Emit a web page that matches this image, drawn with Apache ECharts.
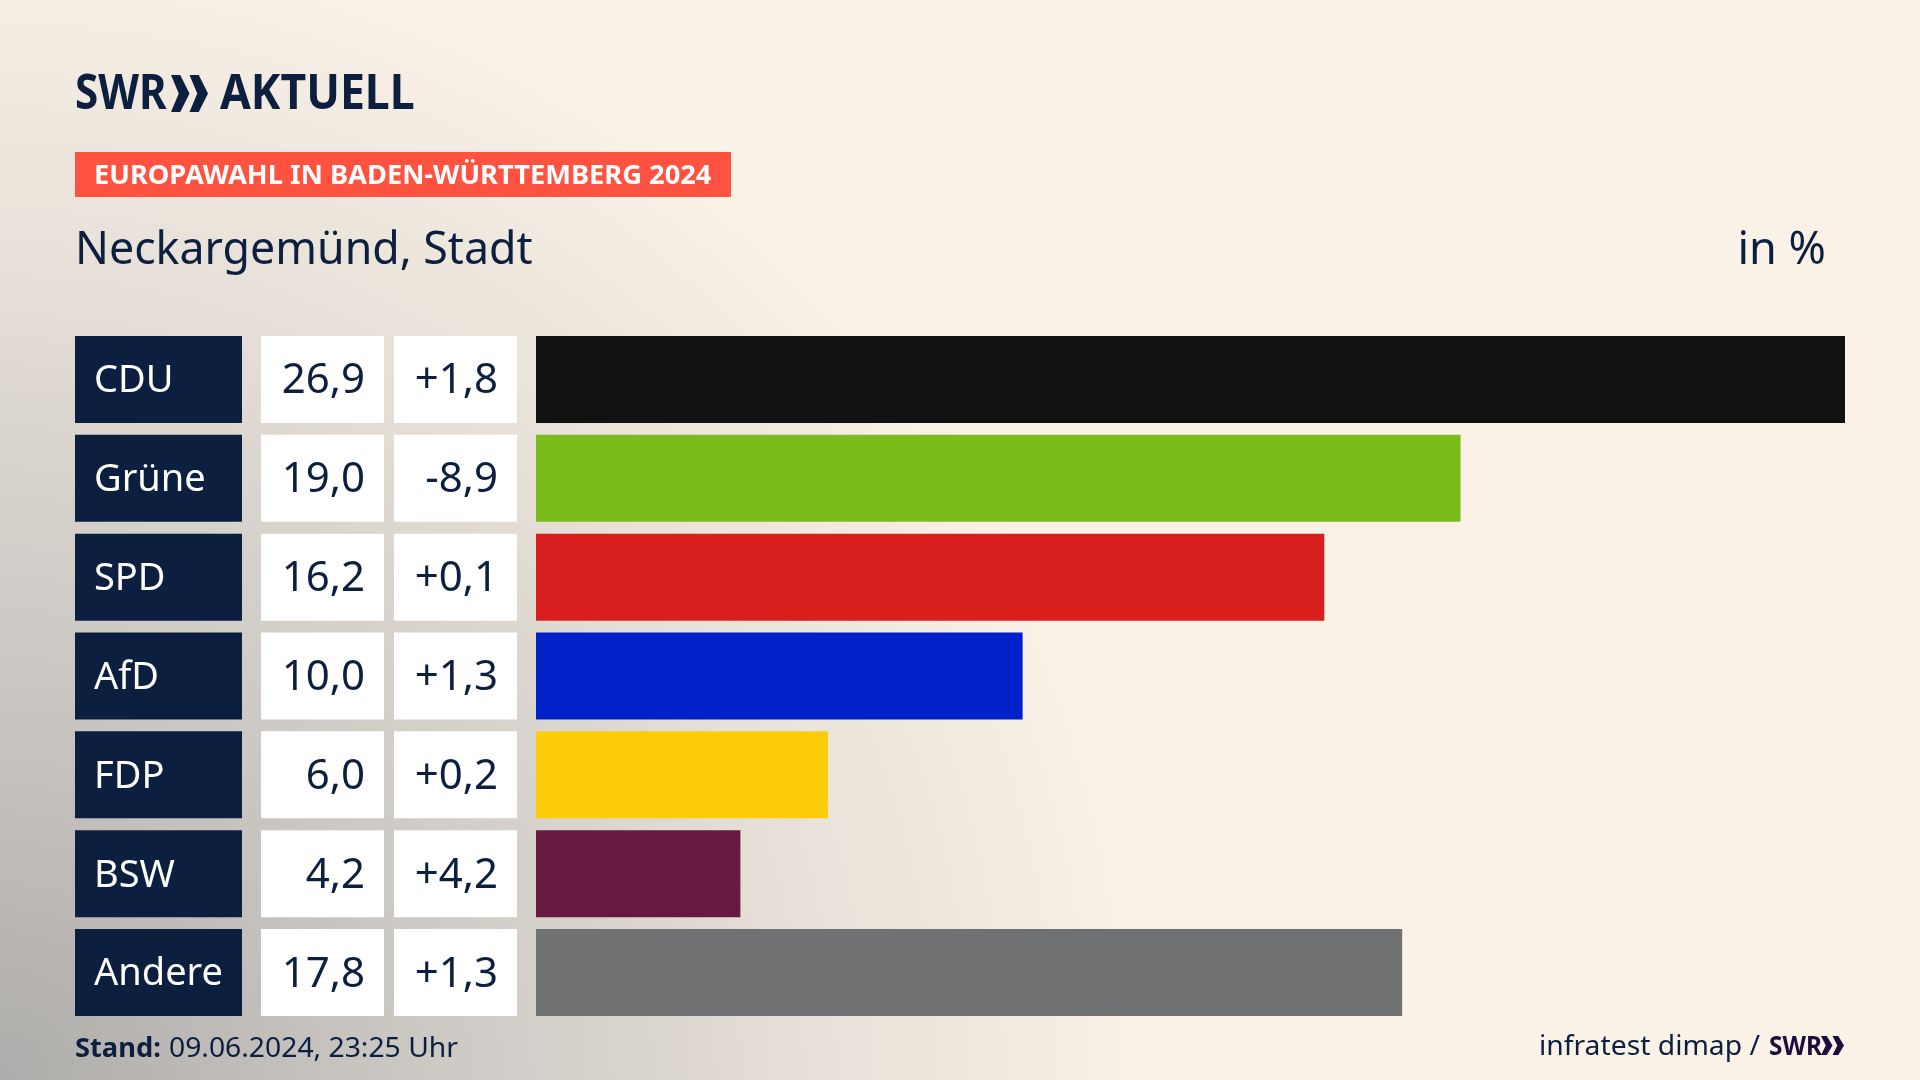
<!DOCTYPE html>
<html>
<head>
<meta charset="utf-8">
<title>Europawahl Neckargemünd</title>
<style>
	html, body { margin: 0; padding: 0; }
	#chart { width: 1920px; height: 1080px; }
</style>
<script src="https://cdn.jsdelivr.net/npm/echarts@6/dist/echarts.min.js"></script>
</head>
<body>
<div id="chart"></div>
<script>
var parties = ['CDU', 'Grüne', 'SPD', 'AfD', 'FDP', 'BSW', 'Andere'];
var shares = [26.9, 19.0, 16.2, 10.0, 6.0, 4.2, 17.8];
var changes = [1.8, -8.9, 0.1, 1.3, 0.2, 4.2, 1.3];
var partyColors = ['#121212', '#7abd1a', '#d81f1e', '#0020c8', '#ffcc0a', '#671a3f', '#707173'];

var navy = '#0c1f3f';
var font = '"Noto Sans", sans-serif';

// comma as decimal mark
function fmt(v) {
	return v.toFixed(1).replace('.', ',');
}

function fmtChange(v) {
	return (v > 0 ? '+' : '') + fmt(v);
}

// one column per grid: left and width in px, all rows share the same band
var columns = [
	{ left: 75, width: 167 },
	{ left: 261, width: 123 },
	{ left: 394, width: 123 },
	{ left: 536, width: 1309 }
];

var grids = [], xAxes = [], yAxes = [];
for (var i = 0; i < columns.length; i++) {
	grids.push({ left: columns[i].left, width: columns[i].width, top: 330, height: 692 });
	xAxes.push({ gridIndex: i, type: 'value', min: 0, max: i == 3 ? 26.9 : 1, show: false });
	yAxes.push({ gridIndex: i, type: 'category', inverse: true, data: parties, show: false });
}

function fullCells() {
	var out = [];
	for (var i = 0; i < parties.length; i++) {
		out.push(1);
	}
	return out;
}

function cellSeries(index, color, textColor, position, distance, size, formatter) {
	return {
		type: 'bar',
		xAxisIndex: index,
		yAxisIndex: index,
		barWidth: 87,
		data: fullCells(),
		itemStyle: { color: color },
		silent: true,
		label: {
			show: true,
			position: position,
			distance: distance,
			offset: [0, 2],
			color: textColor,
			fontFamily: font,
			fontSize: size,
			formatter: formatter
		}
	};
}

// text with scaleX so the width fits
function txt(x, y, text, size, weight, color, align, sx) {
	return {
		type: 'text',
		x: x,
		y: y,
		scaleX: sx || 1,
		style: {
			x: 0,
			y: 0,
			text: text,
			fill: color,
			font: weight + ' ' + size + 'px ' + font,
			textAlign: align || 'left',
			textVerticalAlign: 'middle'
		}
	};
}

function chevrons(x, y, w, h, color) {
	var out = [];
	var cw = w * 0.5;
	for (var i = 0; i < 2; i++) {
		var ox = x + i * cw;
		out.push({
			type: 'polygon',
			shape: {
				points: [[ox, y], [ox + cw * 0.5, y], [ox + cw, y + h / 2], [ox + cw * 0.5, y + h], [ox, y + h], [ox + cw * 0.42, y + h / 2]]
			},
			style: { fill: color }
		});
	}
	return out;
}

var graphics = [
	txt(75, 95, 'SWR', 49, 700, navy, 'left', 0.86),
	txt(220, 95, 'AKTUELL', 49, 700, navy, 'left', 0.91),
	{ type: 'rect', shape: { x: 75, y: 152, width: 656, height: 45 }, style: { fill: '#ff5240' } },
	txt(94, 176, 'EUROPAWAHL IN BADEN-WÜRTTEMBERG 2024', 27, 700, '#ffffff', 'left', 1.01),
	txt(75, 251, 'Neckargemünd, Stadt', 45, 400, navy, 'left', 0.993),
	txt(1826, 251, 'in %', 45, 400, navy, 'right', 1),
	txt(75, 1049, 'Stand:', 27, 700, navy, 'left', 1.01),
	txt(169, 1049, '09.06.2024, 23:25 Uhr', 28, 400, navy, 'left', 1.01),
	txt(1760, 1047, 'infratest dimap /', 28, 400, navy, 'right', 1.01),
	txt(1769, 1047, 'SWR', 27, 700, '#1a0f3c', 'left', 0.9)
].concat(chevrons(171, 75, 37, 37, navy), chevrons(1821, 1036, 23, 19, '#1a0f3c'));

var chart = echarts.init(document.getElementById('chart'));
chart.setOption({
	animation: false,
	backgroundColor: {
		type: 'radial',
		x: 0,
		y: 1,
		r: 1.07,
		colorStops: [
			{ offset: 0, color: '#aeacaa' },
			{ offset: 0.35, color: '#cbc7c3' },
			{ offset: 0.55, color: '#d9d4cd' },
			{ offset: 0.7, color: '#e6e0d8' },
			{ offset: 1, color: '#faf2e7' }
		]
	},
	grid: grids,
	xAxis: xAxes,
	yAxis: yAxes,
	graphic: graphics,
	series: [
		cellSeries(0, navy, '#ffffff', 'insideLeft', 19, 38, function(p) {
			return parties[p.dataIndex];
		}),
		cellSeries(1, '#ffffff', navy, 'insideRight', 19, 42, function(p) {
			return fmt(shares[p.dataIndex]);
		}),
		cellSeries(2, '#ffffff', navy, 'insideRight', 19, 42, function(p) {
			return fmtChange(changes[p.dataIndex]);
		}),
		{
			type: 'bar',
			xAxisIndex: 3,
			yAxisIndex: 3,
			barWidth: 87,
			data: shares,
			silent: true,
			itemStyle: {
				color: function(p) {
					return partyColors[p.dataIndex];
				}
			}
		}
	]
});
</script>
</body>
</html>
